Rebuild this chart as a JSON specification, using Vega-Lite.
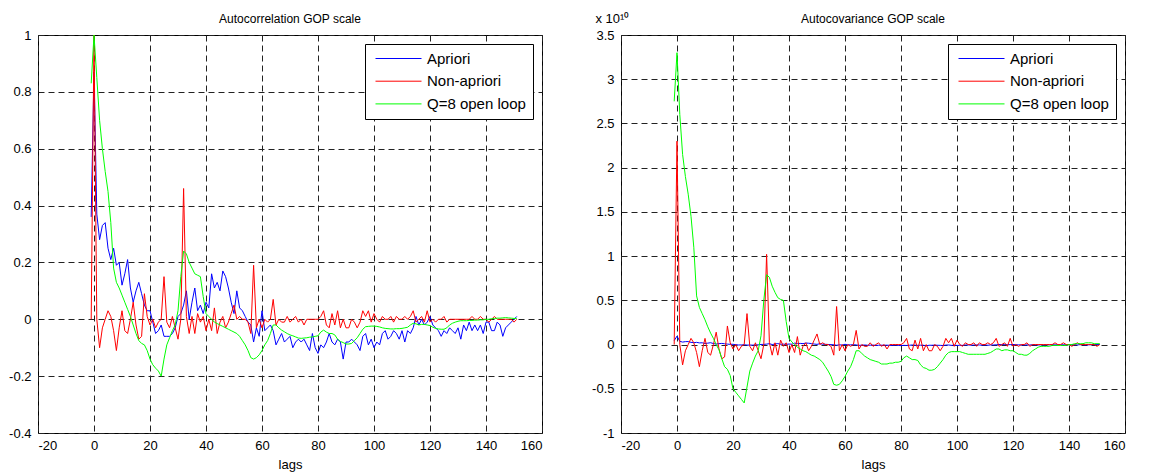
{
  "$schema": "https://vega.github.io/schema/vega-lite/v6.json",
  "background": "white",
  "padding": {"left": 8, "top": 11, "right": 5, "bottom": 5},
  "config": {
    "locale": {"number": {"decimal": ".", "thousands": ",", "grouping": [3], "currency": ["$", ""], "minus": "-"}},
    "font": "Liberation Sans",
    "view": {"stroke": "#000", "strokeWidth": 1},
    "axis": {"grid": true, "gridColor": "#222", "gridDash": [6, 4], "gridWidth": 1, "domain": false, "ticks": false, "labelFont": "Liberation Sans", "labelFontSize": 13, "labelColor": "#000", "titleFont": "Liberation Sans", "titleFontSize": 13, "titleFontWeight": "normal", "titleColor": "#000"},
    "title": {"font": "Liberation Sans", "fontSize": 12, "fontWeight": "normal", "color": "#000"},
    "legend": {"strokeColor": "#000", "fillColor": "#fff", "padding": 7, "symbolType": "M-0.57,0H6", "symbolSize": 196, "symbolStrokeWidth": 1, "labelFont": "Liberation Sans", "labelFontSize": 15, "labelColor": "#000", "rowPadding": 6.7, "labelOffset": 40, "cornerRadius": 0},
    "concat": {"spacing": 48}
  },
  "datasets": {
    "corr": [
      {"lag":-1,"a":0.36,"n":0,"q":0.83},{"lag":0,"a":0.87,"n":1,"q":1},{"lag":1,"a":0.37,"n":0,"q":0.85},{"lag":2,"a":0.28,"n":-0.1,"q":0.7},{"lag":3,"a":0.33,"n":-0.03,"q":0.6},{"lag":4,"a":0.34,"n":0,"q":0.52},{"lag":5,"a":0.25,"n":0.03,"q":0.45},{"lag":6,"a":0.21,"n":0.01,"q":0.34},{"lag":7,"a":0.25,"n":-0.04,"q":0.18},{"lag":8,"a":0.19,"n":-0.11,"q":0.13},{"lag":9,"a":0.2,"n":-0.03,"q":0.11},{"lag":10,"a":0.12,"n":0.03,"q":0.085},{"lag":11,"a":0.16,"n":-0.04,"q":0.06},{"lag":12,"a":0.21,"n":-0.05,"q":0.035},{"lag":13,"a":0.11,"n":0,"q":0.01},{"lag":14,"a":0.06,"n":0.06,"q":-0.02},{"lag":15,"a":0.1,"n":-0.02,"q":-0.05},{"lag":16,"a":0.13,"n":-0.07,"q":-0.075},{"lag":17,"a":0.09,"n":-0.06,"q":-0.085},{"lag":18,"a":0.05,"n":0.09,"q":-0.09},{"lag":19,"a":0.03,"n":0.01,"q":-0.11},{"lag":20,"a":0.03,"n":-0.02,"q":-0.14},{"lag":21,"a":-0.01,"n":0,"q":-0.16},{"lag":22,"a":-0.05,"n":-0.03,"q":-0.172},{"lag":23,"a":-0.04,"n":-0.01,"q":-0.182},{"lag":24,"a":-0.02,"n":0,"q":-0.2},{"lag":25,"a":-0.06,"n":0.15,"q":-0.14},{"lag":26,"a":-0.06,"n":-0.01,"q":-0.09},{"lag":27,"a":-0.06,"n":-0.03,"q":-0.065},{"lag":28,"a":-0.05,"n":0.01,"q":-0.04},{"lag":29,"a":-0.03,"n":-0.03,"q":-0.02},{"lag":30,"a":0.01,"n":-0.07,"q":0.03},{"lag":31,"a":0.02,"n":0,"q":0.15},{"lag":32,"a":0.05,"n":0.46,"q":0.24},{"lag":33,"a":0.1,"n":0.01,"q":0.23},{"lag":34,"a":0,"n":-0.05,"q":0.2},{"lag":35,"a":0.06,"n":0.01,"q":0.18},{"lag":36,"a":0.11,"n":-0.05,"q":0.16},{"lag":37,"a":0.03,"n":0.02,"q":0.155},{"lag":38,"a":0.05,"n":-0.01,"q":0.15},{"lag":39,"a":0.02,"n":0.01,"q":0.08},{"lag":40,"a":0.06,"n":-0.04,"q":0.02},{"lag":41,"a":0.04,"n":0,"q":0.01},{"lag":42,"a":0.16,"n":-0.04,"q":0},{"lag":43,"a":0.11,"n":0.04,"q":-0.01},{"lag":44,"a":0.13,"n":-0.05,"q":-0.015},{"lag":45,"a":0.1,"n":-0.01,"q":-0.02},{"lag":46,"a":0.17,"n":0.01,"q":-0.025},{"lag":47,"a":0.15,"n":-0.03,"q":-0.03},{"lag":48,"a":0.11,"n":-0.01,"q":-0.035},{"lag":49,"a":0.06,"n":0.02,"q":-0.04},{"lag":50,"a":0.02,"n":0.05,"q":-0.045},{"lag":51,"a":0.1,"n":0,"q":-0.05},{"lag":52,"a":0.04,"n":0.01,"q":-0.06},{"lag":53,"a":0.03,"n":0,"q":-0.075},{"lag":54,"a":0.01,"n":0,"q":-0.09},{"lag":55,"a":-0.01,"n":-0.01,"q":-0.11},{"lag":56,"a":-0.02,"n":-0.05,"q":-0.135},{"lag":57,"a":-0.08,"n":0.19,"q":-0.14},{"lag":58,"a":-0.03,"n":-0.03,"q":-0.135},{"lag":59,"a":-0.06,"n":0,"q":-0.125},{"lag":60,"a":0.03,"n":-0.03,"q":-0.11},{"lag":61,"a":-0.04,"n":0,"q":-0.09},{"lag":62,"a":-0.03,"n":-0.01,"q":-0.075},{"lag":63,"a":-0.02,"n":0,"q":-0.05},{"lag":64,"a":-0.04,"n":0.07,"q":-0.02},{"lag":65,"a":-0.09,"n":-0.02,"q":-0.02},{"lag":66,"a":-0.07,"n":0,"q":-0.03},{"lag":67,"a":-0.05,"n":-0.01,"q":-0.038},{"lag":68,"a":-0.08,"n":-0.01,"q":-0.044},{"lag":69,"a":-0.07,"n":0.01,"q":-0.05},{"lag":70,"a":-0.06,"n":-0.01,"q":-0.055},{"lag":71,"a":-0.1,"n":0,"q":-0.058},{"lag":72,"a":-0.08,"n":0.01,"q":-0.062},{"lag":73,"a":-0.07,"n":-0.01,"q":-0.066},{"lag":74,"a":-0.08,"n":0,"q":-0.067},{"lag":75,"a":-0.07,"n":-0.02,"q":-0.066},{"lag":76,"a":-0.09,"n":0,"q":-0.065},{"lag":77,"a":-0.11,"n":0,"q":-0.063},{"lag":78,"a":-0.05,"n":0,"q":-0.062},{"lag":79,"a":-0.1,"n":0,"q":-0.06},{"lag":80,"a":-0.12,"n":0,"q":-0.058},{"lag":81,"a":-0.09,"n":0.01,"q":-0.045},{"lag":82,"a":-0.1,"n":0.03,"q":-0.038},{"lag":83,"a":-0.08,"n":-0.02,"q":-0.045},{"lag":84,"a":-0.05,"n":-0.03,"q":-0.05},{"lag":85,"a":-0.08,"n":0.02,"q":-0.05},{"lag":86,"a":-0.09,"n":-0.02,"q":-0.055},{"lag":87,"a":-0.07,"n":0.03,"q":-0.07},{"lag":88,"a":-0.08,"n":-0.03,"q":-0.078},{"lag":89,"a":-0.14,"n":0,"q":-0.082},{"lag":90,"a":-0.08,"n":-0.03,"q":-0.087},{"lag":91,"a":-0.08,"n":-0.03,"q":-0.087},{"lag":92,"a":-0.07,"n":0,"q":-0.085},{"lag":93,"a":-0.08,"n":-0.01,"q":-0.075},{"lag":94,"a":-0.09,"n":-0.03,"q":-0.065},{"lag":95,"a":-0.11,"n":-0.01,"q":-0.05},{"lag":96,"a":-0.06,"n":0.03,"q":-0.035},{"lag":97,"a":-0.05,"n":0.01,"q":-0.026},{"lag":98,"a":-0.09,"n":0.03,"q":-0.025},{"lag":99,"a":-0.07,"n":-0.01,"q":-0.024},{"lag":100,"a":-0.1,"n":0.02,"q":-0.024},{"lag":101,"a":-0.08,"n":0,"q":-0.025},{"lag":102,"a":-0.09,"n":-0.01,"q":-0.027},{"lag":103,"a":-0.05,"n":0.01,"q":-0.03},{"lag":104,"a":-0.04,"n":0,"q":-0.032},{"lag":105,"a":-0.07,"n":0,"q":-0.033},{"lag":106,"a":-0.06,"n":0.01,"q":-0.034},{"lag":107,"a":-0.04,"n":-0.01,"q":-0.034},{"lag":108,"a":-0.05,"n":0.01,"q":-0.033},{"lag":109,"a":-0.07,"n":0,"q":-0.033},{"lag":110,"a":-0.04,"n":0,"q":-0.032},{"lag":111,"a":-0.08,"n":0.01,"q":-0.03},{"lag":112,"a":-0.04,"n":0,"q":-0.028},{"lag":113,"a":-0.05,"n":0.01,"q":-0.02},{"lag":114,"a":-0.03,"n":0.03,"q":-0.014},{"lag":115,"a":0.01,"n":-0.01,"q":-0.016},{"lag":116,"a":-0.02,"n":0,"q":-0.02},{"lag":117,"a":0,"n":0.01,"q":-0.018},{"lag":118,"a":-0.02,"n":-0.01,"q":-0.018},{"lag":119,"a":-0.01,"n":0.03,"q":-0.02},{"lag":120,"a":0.01,"n":-0.01,"q":-0.022},{"lag":121,"a":-0.02,"n":0,"q":-0.028},{"lag":122,"a":-0.03,"n":-0.01,"q":-0.032},{"lag":123,"a":-0.04,"n":0,"q":-0.034},{"lag":124,"a":-0.06,"n":0,"q":-0.035},{"lag":125,"a":-0.04,"n":0.01,"q":-0.035},{"lag":126,"a":-0.05,"n":-0.01,"q":-0.03},{"lag":127,"a":-0.03,"n":0,"q":-0.02},{"lag":128,"a":-0.04,"n":0,"q":-0.014},{"lag":129,"a":-0.05,"n":0,"q":-0.01},{"lag":130,"a":-0.03,"n":0,"q":-0.007},{"lag":131,"a":-0.07,"n":0,"q":-0.005},{"lag":132,"a":-0.02,"n":0,"q":-0.005},{"lag":133,"a":-0.04,"n":0,"q":-0.005},{"lag":134,"a":-0.01,"n":0,"q":-0.004},{"lag":135,"a":-0.04,"n":0.01,"q":-0.004},{"lag":136,"a":-0.02,"n":0,"q":-0.003},{"lag":137,"a":-0.04,"n":0,"q":-0.003},{"lag":138,"a":-0.02,"n":0.01,"q":-0.002},{"lag":139,"a":-0.05,"n":0,"q":-0.002},{"lag":140,"a":-0.01,"n":0,"q":0},{"lag":141,"a":-0.01,"n":-0.01,"q":0},{"lag":142,"a":-0.04,"n":0,"q":0.002},{"lag":143,"a":-0.04,"n":0.01,"q":0.003},{"lag":144,"a":-0.01,"n":0,"q":0.004},{"lag":145,"a":-0.02,"n":0,"q":0.004},{"lag":146,"a":-0.06,"n":0,"q":0.005},{"lag":147,"a":-0.03,"n":0,"q":0.006},{"lag":148,"a":-0.02,"n":0,"q":0.005},{"lag":149,"a":-0.01,"n":0,"q":0.004},{"lag":150,"a":0,"n":-0.01,"q":0.003},{"lag":151,"a":0.01,"n":0,"q":0.003}
    ],
    "cov": [
      {"lag":-1,"a":0.045,"n":0,"q":2.75},{"lag":0,"a":0.095,"n":2.3,"q":3.3},{"lag":1,"a":0.037,"n":0,"q":2.6},{"lag":2,"a":0.028,"n":-0.23,"q":2.15},{"lag":3,"a":0.033,"n":-0.07,"q":1.9},{"lag":4,"a":0.034,"n":0,"q":1.7},{"lag":5,"a":0.025,"n":0.07,"q":1.45},{"lag":6,"a":0.021,"n":0.02,"q":1.1},{"lag":7,"a":0.025,"n":-0.09,"q":0.55},{"lag":8,"a":0.019,"n":-0.25,"q":0.42},{"lag":9,"a":0.02,"n":-0.07,"q":0.35},{"lag":10,"a":0.012,"n":0.07,"q":0.28},{"lag":11,"a":0.016,"n":-0.09,"q":0.2},{"lag":12,"a":0.021,"n":-0.12,"q":0.13},{"lag":13,"a":0.011,"n":0,"q":0.07},{"lag":14,"a":0.006,"n":0.14,"q":0},{"lag":15,"a":0.01,"n":-0.05,"q":-0.06},{"lag":16,"a":0.013,"n":-0.16,"q":-0.16},{"lag":17,"a":0.009,"n":-0.14,"q":-0.25},{"lag":18,"a":0.005,"n":0.21,"q":-0.28},{"lag":19,"a":0.003,"n":0.02,"q":-0.35},{"lag":20,"a":0.003,"n":-0.05,"q":-0.5},{"lag":21,"a":-0.001,"n":0,"q":-0.54},{"lag":22,"a":-0.005,"n":-0.07,"q":-0.58},{"lag":23,"a":-0.004,"n":-0.02,"q":-0.62},{"lag":24,"a":-0.002,"n":0,"q":-0.66},{"lag":25,"a":-0.006,"n":0.35,"q":-0.48},{"lag":26,"a":-0.006,"n":-0.02,"q":-0.3},{"lag":27,"a":-0.006,"n":-0.07,"q":-0.21},{"lag":28,"a":-0.005,"n":0.02,"q":-0.13},{"lag":29,"a":-0.003,"n":-0.07,"q":-0.07},{"lag":30,"a":0.001,"n":-0.16,"q":0.1},{"lag":31,"a":0.002,"n":0,"q":0.5},{"lag":32,"a":0.005,"n":1.02,"q":0.79},{"lag":33,"a":0.01,"n":0.02,"q":0.76},{"lag":34,"a":0,"n":-0.12,"q":0.66},{"lag":35,"a":0.006,"n":0.02,"q":0.59},{"lag":36,"a":0.011,"n":-0.12,"q":0.53},{"lag":37,"a":0.003,"n":0.05,"q":0.51},{"lag":38,"a":0.005,"n":-0.02,"q":0.5},{"lag":39,"a":0.002,"n":0.02,"q":0.26},{"lag":40,"a":0.006,"n":-0.09,"q":0.07},{"lag":41,"a":0.004,"n":0,"q":0.03},{"lag":42,"a":0.016,"n":-0.09,"q":0},{"lag":43,"a":0.011,"n":0.09,"q":-0.03},{"lag":44,"a":0.013,"n":-0.12,"q":-0.05},{"lag":45,"a":0.01,"n":-0.02,"q":-0.07},{"lag":46,"a":0.017,"n":0.02,"q":-0.08},{"lag":47,"a":0.015,"n":-0.07,"q":-0.1},{"lag":48,"a":0.011,"n":-0.02,"q":-0.12},{"lag":49,"a":0.006,"n":0.05,"q":-0.13},{"lag":50,"a":0.002,"n":0.12,"q":-0.15},{"lag":51,"a":0.01,"n":0,"q":-0.17},{"lag":52,"a":0.004,"n":0.02,"q":-0.2},{"lag":53,"a":0.003,"n":0,"q":-0.25},{"lag":54,"a":0.001,"n":0,"q":-0.3},{"lag":55,"a":-0.001,"n":-0.02,"q":-0.36},{"lag":56,"a":-0.002,"n":-0.12,"q":-0.45},{"lag":57,"a":-0.008,"n":0.43,"q":-0.46},{"lag":58,"a":-0.003,"n":-0.07,"q":-0.45},{"lag":59,"a":-0.006,"n":0,"q":-0.41},{"lag":60,"a":0.003,"n":-0.07,"q":-0.36},{"lag":61,"a":-0.004,"n":0,"q":-0.3},{"lag":62,"a":-0.003,"n":-0.02,"q":-0.25},{"lag":63,"a":-0.002,"n":0,"q":-0.17},{"lag":64,"a":-0.004,"n":0.16,"q":-0.07},{"lag":65,"a":-0.009,"n":-0.05,"q":-0.07},{"lag":66,"a":-0.007,"n":0,"q":-0.1},{"lag":67,"a":-0.005,"n":-0.02,"q":-0.13},{"lag":68,"a":-0.008,"n":-0.02,"q":-0.15},{"lag":69,"a":-0.007,"n":0.02,"q":-0.17},{"lag":70,"a":-0.006,"n":-0.02,"q":-0.18},{"lag":71,"a":-0.01,"n":0,"q":-0.19},{"lag":72,"a":-0.008,"n":0.02,"q":-0.2},{"lag":73,"a":-0.007,"n":-0.02,"q":-0.22},{"lag":74,"a":-0.008,"n":0,"q":-0.22},{"lag":75,"a":-0.007,"n":-0.05,"q":-0.22},{"lag":76,"a":-0.009,"n":0,"q":-0.21},{"lag":77,"a":-0.011,"n":0,"q":-0.21},{"lag":78,"a":-0.005,"n":0,"q":-0.2},{"lag":79,"a":-0.01,"n":0,"q":-0.2},{"lag":80,"a":-0.012,"n":0,"q":-0.19},{"lag":81,"a":-0.009,"n":0.02,"q":-0.15},{"lag":82,"a":-0.01,"n":0.07,"q":-0.13},{"lag":83,"a":-0.008,"n":-0.05,"q":-0.15},{"lag":84,"a":-0.005,"n":-0.07,"q":-0.17},{"lag":85,"a":-0.008,"n":0.05,"q":-0.17},{"lag":86,"a":-0.009,"n":-0.05,"q":-0.18},{"lag":87,"a":-0.007,"n":0.07,"q":-0.23},{"lag":88,"a":-0.008,"n":-0.07,"q":-0.26},{"lag":89,"a":-0.014,"n":0,"q":-0.27},{"lag":90,"a":-0.008,"n":-0.07,"q":-0.29},{"lag":91,"a":-0.008,"n":-0.07,"q":-0.29},{"lag":92,"a":-0.007,"n":0,"q":-0.28},{"lag":93,"a":-0.008,"n":-0.02,"q":-0.25},{"lag":94,"a":-0.009,"n":-0.07,"q":-0.21},{"lag":95,"a":-0.011,"n":-0.02,"q":-0.17},{"lag":96,"a":-0.006,"n":0.07,"q":-0.12},{"lag":97,"a":-0.005,"n":0.02,"q":-0.09},{"lag":98,"a":-0.009,"n":0.07,"q":-0.08},{"lag":99,"a":-0.007,"n":-0.02,"q":-0.08},{"lag":100,"a":-0.01,"n":0.05,"q":-0.08},{"lag":101,"a":-0.008,"n":0,"q":-0.08},{"lag":102,"a":-0.009,"n":-0.02,"q":-0.09},{"lag":103,"a":-0.005,"n":0.02,"q":-0.1},{"lag":104,"a":-0.004,"n":0,"q":-0.11},{"lag":105,"a":-0.007,"n":0,"q":-0.11},{"lag":106,"a":-0.006,"n":0.02,"q":-0.11},{"lag":107,"a":-0.004,"n":-0.02,"q":-0.11},{"lag":108,"a":-0.005,"n":0.02,"q":-0.11},{"lag":109,"a":-0.007,"n":0,"q":-0.11},{"lag":110,"a":-0.004,"n":0,"q":-0.11},{"lag":111,"a":-0.008,"n":0.02,"q":-0.1},{"lag":112,"a":-0.004,"n":0,"q":-0.09},{"lag":113,"a":-0.005,"n":0.02,"q":-0.07},{"lag":114,"a":-0.003,"n":0.07,"q":-0.05},{"lag":115,"a":0.001,"n":-0.02,"q":-0.05},{"lag":116,"a":-0.002,"n":0,"q":-0.07},{"lag":117,"a":0,"n":0.02,"q":-0.06},{"lag":118,"a":-0.002,"n":-0.02,"q":-0.06},{"lag":119,"a":-0.001,"n":0.07,"q":-0.07},{"lag":120,"a":0.001,"n":-0.02,"q":-0.07},{"lag":121,"a":-0.002,"n":0,"q":-0.09},{"lag":122,"a":-0.003,"n":-0.02,"q":-0.11},{"lag":123,"a":-0.004,"n":0,"q":-0.11},{"lag":124,"a":-0.006,"n":0,"q":-0.12},{"lag":125,"a":-0.004,"n":0.02,"q":-0.12},{"lag":126,"a":-0.005,"n":-0.02,"q":-0.1},{"lag":127,"a":-0.003,"n":0,"q":-0.07},{"lag":128,"a":-0.004,"n":0,"q":-0.05},{"lag":129,"a":-0.005,"n":0,"q":-0.03},{"lag":130,"a":-0.003,"n":0,"q":-0.02},{"lag":131,"a":-0.007,"n":0,"q":-0.02},{"lag":132,"a":-0.002,"n":0,"q":-0.02},{"lag":133,"a":-0.004,"n":0,"q":-0.02},{"lag":134,"a":-0.001,"n":0,"q":-0.01},{"lag":135,"a":-0.004,"n":0.02,"q":-0.01},{"lag":136,"a":-0.002,"n":0,"q":-0.01},{"lag":137,"a":-0.004,"n":0,"q":-0.01},{"lag":138,"a":-0.002,"n":0.02,"q":-0.01},{"lag":139,"a":-0.005,"n":0,"q":-0.01},{"lag":140,"a":-0.001,"n":0,"q":0},{"lag":141,"a":-0.001,"n":-0.02,"q":0},{"lag":142,"a":-0.004,"n":0,"q":0.01},{"lag":143,"a":-0.004,"n":0.02,"q":0.01},{"lag":144,"a":-0.001,"n":0,"q":0.01},{"lag":145,"a":-0.002,"n":0,"q":0.01},{"lag":146,"a":-0.006,"n":0,"q":0.02},{"lag":147,"a":-0.003,"n":0,"q":0.02},{"lag":148,"a":-0.002,"n":0,"q":0.02},{"lag":149,"a":-0.001,"n":0,"q":0.01},{"lag":150,"a":0,"n":-0.02,"q":0.01},{"lag":151,"a":0.001,"n":0,"q":0.01}
    ]
  },
  "resolve": {"legend": {"color": "independent"}, "scale": {"y": "independent"}},
  "hconcat": [
    {
      "width": 504,
      "height": 398,
      "title": {"text": "Autocorrelation GOP scale", "offset": 3},
      "data": {"name": "corr"},
      "transform": [{"fold": ["a", "n", "q"], "as": ["s", "v"]}],
      "mark": {"type": "line", "strokeWidth": 1},
      "encoding": {
        "x": {"field": "lag", "type": "quantitative", "scale": {"domain": [-20, 160], "nice": false}, "axis": {"values": [-20, 0, 20, 40, 60, 80, 100, 120, 140, 160], "title": "lags", "labelPadding": 6, "titlePadding": 6}},
        "y": {"field": "v", "type": "quantitative", "scale": {"domain": [-0.4, 1], "nice": false, "zero": false}, "axis": {"values": [-0.4, -0.2, 0, 0.2, 0.4, 0.6, 0.8, 1], "format": "~g", "title": null, "labelPadding": 7}},
        "color": {"field": "s", "type": "nominal", "scale": {"domain": ["a", "n", "q"], "range": ["#0000FF", "#FF0000", "#00FF00"]}, "legend": {"title": null, "orient": "top-right", "offset": 9, "labelExpr": "datum.label == 'a' ? 'Apriori' : datum.label == 'n' ? 'Non-apriori' : 'Q=8 open loop'"}}
      }
    },
    {
      "width": 504,
      "height": 398,
      "title": {"text": "Autocovariance GOP scale", "offset": -14},
      "data": {"name": "cov"},
      "transform": [{"fold": ["a", "n", "q"], "as": ["s", "v"]}],
      "mark": {"type": "line", "strokeWidth": 1},
      "encoding": {
        "x": {"field": "lag", "type": "quantitative", "scale": {"domain": [-20, 160], "nice": false}, "axis": {"values": [-20, 0, 20, 40, 60, 80, 100, 120, 140, 160], "title": "lags", "labelPadding": 6, "titlePadding": 6}},
        "y": {"field": "v", "type": "quantitative", "scale": {"domain": [-1, 3.5], "nice": false, "zero": false}, "axis": {"values": [-1, -0.5, 0, 0.5, 1, 1.5, 2, 2.5, 3, 3.5], "format": "~g", "title": "x 10¹⁰", "titleAngle": 0, "titleAlign": "left", "titleBaseline": "middle", "titleX": -26, "titleY": -17, "labelPadding": 7}},
        "color": {"field": "s", "type": "nominal", "scale": {"domain": ["a", "n", "q"], "range": ["#0000FF", "#FF0000", "#00FF00"]}, "legend": {"title": null, "orient": "top-right", "offset": 9, "labelExpr": "datum.label == 'a' ? 'Apriori' : datum.label == 'n' ? 'Non-apriori' : 'Q=8 open loop'"}}
      }
    }
  ]
}
